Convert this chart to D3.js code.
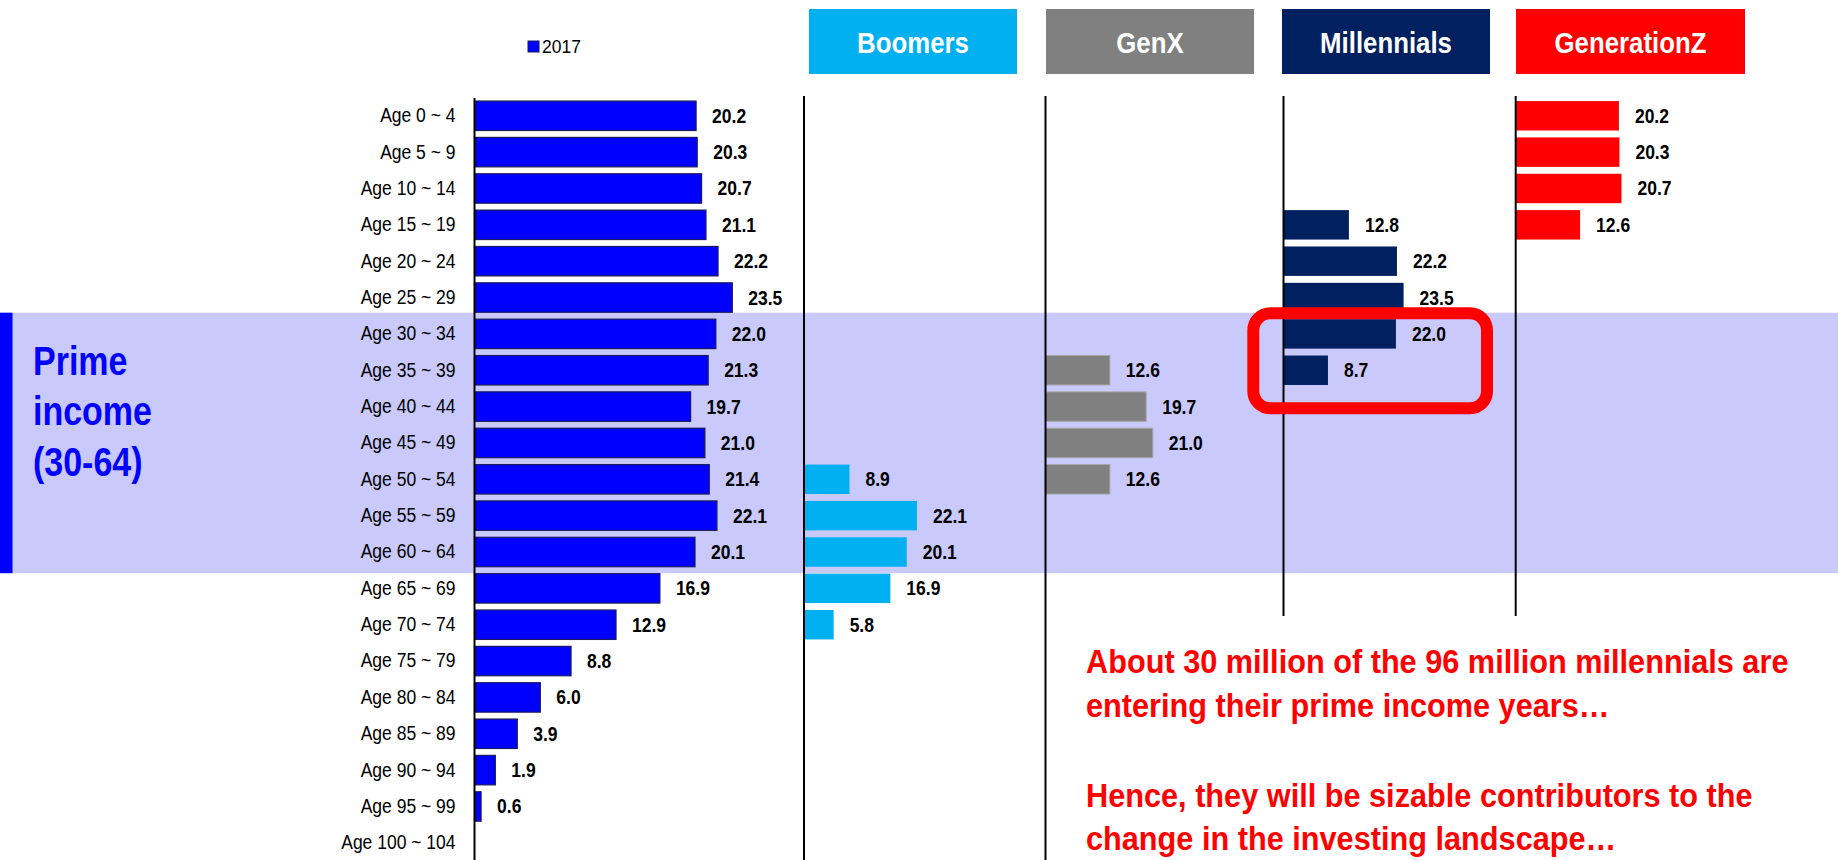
<!DOCTYPE html>
<html>
<head>
<meta charset="utf-8">
<script src="https://cdn.jsdelivr.net/npm/d3@7"></script>
<style>
  html, body { margin: 0; padding: 0; background: #ffffff; }
  svg { display: block; }
  text { font-family: "Liberation Sans", Arial, sans-serif; }
</style>
</head>
<body>
<svg id="chart" width="1838" height="860"></svg>
<script>
// ---------------- data ----------------
const ageGroups = ["Age 0 ~ 4","Age 5 ~ 9","Age 10 ~ 14","Age 15 ~ 19","Age 20 ~ 24","Age 25 ~ 29",
  "Age 30 ~ 34","Age 35 ~ 39","Age 40 ~ 44","Age 45 ~ 49","Age 50 ~ 54","Age 55 ~ 59","Age 60 ~ 64",
  "Age 65 ~ 69","Age 70 ~ 74","Age 75 ~ 79","Age 80 ~ 84","Age 85 ~ 89","Age 90 ~ 94","Age 95 ~ 99","Age 100 ~ 104"];
const population2017 = [20.2,20.3,20.7,21.1,22.2,23.5,22.0,21.3,19.7,21.0,21.4,22.1,20.1,16.9,12.9,8.8,6.0,3.9,1.9,0.6,null];

const boomersAges = ["Age 50 ~ 54","Age 55 ~ 59","Age 60 ~ 64","Age 65 ~ 69","Age 70 ~ 74"];
const boomersValues = [8.9,22.1,20.1,16.9,5.8];
const genXAges = ["Age 35 ~ 39","Age 40 ~ 44","Age 45 ~ 49","Age 50 ~ 54"];
const genXValues = [12.6,19.7,21.0,12.6];
const millennialsAges = ["Age 15 ~ 19","Age 20 ~ 24","Age 25 ~ 29","Age 30 ~ 34","Age 35 ~ 39"];
const millennialsValues = [12.8,22.2,23.5,22.0,8.7];
const genZAges = ["Age 0 ~ 4","Age 5 ~ 9","Age 10 ~ 14","Age 15 ~ 19"];
const genZValues = [20.2,20.3,20.7,12.6];

const generationNames = ["Boomers","GenX","Millennials","GenerationZ"];
const legendLabel = "2017";
const primeLabel = ["Prime","income","(30-64)"];
const primeRange = ["Age 30 ~ 34","Age 60 ~ 64"];
const noteLines = ["About 30 million of the 96 million millennials are","entering their prime income years…","","Hence, they will be sizable contributors to the","change in the investing landscape…"];

// ---------------- helpers ----------------
// horizontally condense text (the original uses a narrow typeface)
function narrow(sel, k) {
  sel.each(function() {
    const t = d3.select(this);
    const x = +(t.attr("x") || 0);
    const tr = t.attr("transform") || "";
    t.attr("x", x / k).attr("transform", (tr + ` scale(${k},1)`).trim());
    t.selectAll("tspan").each(function() {
      const s = d3.select(this);
      if (s.attr("x") != null) s.attr("x", +s.attr("x") / k);
    });
  });
}

// ---------------- layout ----------------
const svg = d3.select("#chart");
const W = 1838, H = 860;

const y = d3.scaleBand().domain(ageGroups).range([97.6, 861]).paddingInner(0.19).paddingOuter(0.095);
const xMain = d3.scaleLinear().domain([0, 30]).range([474.5, 474.5 + 329.1]);

const panels = [
  {name: generationNames[0], ages: boomersAges, values: boomersValues, color: "#00B0F0", x0: 804, box: [809, 1017], axisEnd: 860, stroke: "none"},
  {name: generationNames[1], ages: genXAges, values: genXValues, color: "#808080", x0: 1045.5, box: [1046, 1254], axisEnd: 860, stroke: "#a6a6a6"},
  {name: generationNames[2], ages: millennialsAges, values: millennialsValues, color: "#002060", x0: 1283.5, box: [1282, 1490], axisEnd: 616, stroke: "none"},
  {name: generationNames[3], ages: genZAges, values: genZValues, color: "#FF0000", x0: 1515.7, box: [1516, 1745], axisEnd: 616, stroke: "none"}
];

// prime income band
const step = y.step();
const bandTop = y(primeRange[0]) - step * y.paddingInner() / 2 - 3;
const bandBot = y(primeRange[1]) + y.bandwidth() + step * y.paddingInner() / 2 + 3;
svg.append("rect").attr("x", 0).attr("y", bandTop).attr("width", W).attr("height", bandBot - bandTop).attr("fill", "#C9C9FB");
svg.append("rect").attr("x", 0).attr("y", bandTop).attr("width", 12.5).attr("height", bandBot - bandTop).attr("fill", "#0000FF");

primeLabel.forEach((t, i) => {
  svg.append("text").attr("class", "prime").attr("x", 33).attr("y", 375 + i * 50.5)
    .attr("fill", "#0000FF").attr("font-size", 40).attr("font-weight", "bold").text(t);
});
narrow(svg.selectAll("text.prime"), 0.85);

// legend
svg.append("rect").attr("x", 528).attr("y", 41).attr("width", 11).attr("height", 11)
  .attr("fill", "#0000FF").attr("stroke", "#1a1a5e").attr("stroke-width", 1);
svg.append("text").attr("class", "legend").attr("x", 542).attr("y", 53).attr("font-size", 19).attr("fill", "#000").text(legendLabel);
narrow(svg.selectAll("text.legend"), 0.92);

// main bars
const mainData = ageGroups.map((a, i) => ({a, v: population2017[i]})).filter(d => d.v != null);
const gMain = svg.append("g");
gMain.selectAll("rect.bar").data(mainData)
  .join("rect").attr("class", "bar")
  .attr("x", xMain(0) + 1).attr("y", d => y(d.a))
  .attr("width", d => xMain(d.v) - xMain(0) - 1).attr("height", y.bandwidth())
  .attr("fill", "#0000FF").attr("stroke", "#1a1a5e").attr("stroke-width", 1.2);

gMain.selectAll("text.val").data(mainData)
  .join("text").attr("class", "val")
  .attr("x", d => xMain(d.v) + 16).attr("y", d => y(d.a) + y.bandwidth() / 2 + 7)
  .attr("font-size", 20).attr("font-weight", "bold").attr("fill", "#000")
  .text(d => d.v.toFixed(1));
narrow(gMain.selectAll("text.val"), 0.875);

// category axis
const axisLeft = d3.axisLeft(y).tickSize(0).tickPadding(19);
const gAxis = svg.append("g").attr("transform", `translate(${xMain(0)},0)`).call(axisLeft);
gAxis.select(".domain").remove();
gAxis.selectAll("text").attr("font-size", 20).attr("fill", "#000")
  .style("font-family", '"Liberation Sans", Arial, sans-serif');
narrow(gAxis.selectAll("text"), 0.875);
svg.append("line").attr("x1", xMain(0)).attr("x2", xMain(0)).attr("y1", 98).attr("y2", H)
  .attr("stroke", "#000").attr("stroke-width", 2);

// generation panels
const xPanel = d3.scaleLinear().domain([0, 30]).range([0, 153.3]);
panels.forEach(p => {
  const g = svg.append("g");
  g.append("rect").attr("x", p.box[0]).attr("y", 9).attr("width", p.box[1] - p.box[0]).attr("height", 65).attr("fill", p.color);
  g.append("text").attr("class", "head").attr("x", (p.box[0] + p.box[1]) / 2).attr("y", 53).attr("text-anchor", "middle")
    .attr("font-size", 30).attr("font-weight", "bold").attr("fill", "#fff").text(p.name);
  const data = p.ages.map((a, i) => ({a, v: p.values[i]}));
  g.selectAll("rect.pb").data(data).join("rect").attr("class", "pb")
    .attr("x", p.x0).attr("y", d => y(d.a)).attr("width", d => xPanel(d.v)).attr("height", y.bandwidth())
    .attr("fill", p.color).attr("stroke", p.stroke).attr("stroke-width", 1);
  g.selectAll("text.pv").data(data).join("text").attr("class", "pv")
    .attr("x", d => p.x0 + xPanel(d.v) + 16).attr("y", d => y(d.a) + y.bandwidth() / 2 + 7)
    .attr("font-size", 20).attr("font-weight", "bold").attr("fill", "#000").text(d => d.v.toFixed(1));
  narrow(g.selectAll("text.head"), 0.86);
  narrow(g.selectAll("text.pv"), 0.875);
  g.append("line").attr("x1", p.x0).attr("x2", p.x0).attr("y1", 96).attr("y2", p.axisEnd)
    .attr("stroke", "#000").attr("stroke-width", 2);
});

// highlight rounded rectangle around Millennials entering prime income
svg.append("rect").attr("x", 1253.3).attr("y", 313.3).attr("width", 233.7).attr("height", 95)
  .attr("rx", 17).attr("ry", 17).attr("fill", "none").attr("stroke", "#FF0000").attr("stroke-width", 12);

// annotation
const noteY = [673, 717, 0, 807, 850];
noteLines.forEach((t, i) => {
  if (t) svg.append("text").attr("class", "note").attr("x", 1086).attr("y", noteY[i])
    .attr("fill", "#FF0000").attr("font-size", 33).attr("font-weight", "bold").text(t);
});
narrow(svg.selectAll("text.note"), 0.93);
</script>
</body>
</html>
